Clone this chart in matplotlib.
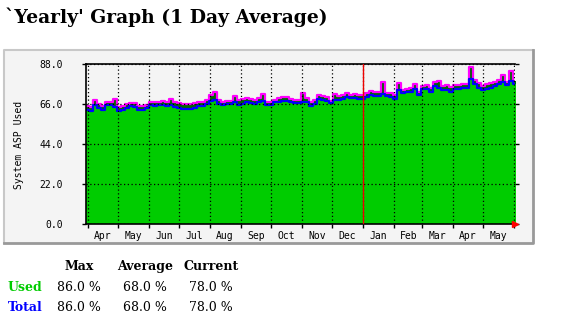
import numpy as np
import pandas as pd
import matplotlib.pyplot as plt
import matplotlib.dates as mdates
from matplotlib.lines import Line2D
from matplotlib.patches import Rectangle

# 4-day bins, starting 2018-03-29
start = '2018-03-29'
used_avg = [63, 62.5, 65.5, 64, 63, 65.5, 65.5, 64.5, 62.5, 63,
            64, 65, 64.5, 63, 63, 64, 65.5, 65, 65.5,
            65.5, 65, 65.5, 64.5, 64, 63.5, 63.5, 63.5, 64, 65,
            65, 66, 68, 68.5, 66, 65.5, 66, 66,
            67, 65.5, 66, 67, 66.5, 66, 67, 68, 65.5, 65.5,
            67, 67.5, 68, 68, 67, 66.5, 66.5, 67,
            67, 65, 66, 69, 68.5, 68, 66.5, 68.5, 68.5, 69,
            70, 69.5, 69.5, 69, 69, 70, 71, 70.5,
            70.5, 71.5, 70.5, 70, 69, 74, 72, 72.5, 73, 74.5,
            71, 74.5, 74.5, 73, 76, 75, 74, 74,
            73, 74.5, 74.5, 75, 75, 80, 77, 75, 74, 74.5,
            75, 76, 77, 78, 76.5, 79, 77]
used_peak = [65, 64.5, 68.5, 66, 65, 67.5, 67.5, 68.7, 64.5, 65,
             66, 66.5, 66.5, 65, 65, 65.5, 67, 67.5, 67.5,
             68, 67.5, 69, 67, 66.5, 66, 66, 66, 66.5, 67.5,
             67.5, 68.5, 71, 72.5, 68.5, 67.5, 68, 68,
             70.5, 68.5, 69, 69.5, 69, 68.5, 69.5, 71.5, 67.5, 67.5,
             68.5, 69.5, 70, 70, 69, 68.5, 68.5, 72,
             69.5, 67.5, 68.5, 71, 70.5, 70, 68, 71.5, 70.5, 71,
             72, 71, 71.5, 71, 71, 72, 73.5, 73,
             73, 78, 72, 72, 71, 77.5, 74, 74.5, 75, 77,
             72.5, 76, 76.5, 75, 78.5, 79, 76, 76.5,
             75.5, 76.5, 76.5, 77, 77, 86.5, 79.5, 77.5, 76, 77,
             77.5, 78.5, 79.5, 82, 78.5, 84.5, 79]

y_ticks = [0, 22, 44, 66, 88]
legend_rows = ['Used', 'Total']
legend_cols = ['Max', 'Average', 'Current']
legend_vals = ['86.0 %', '68.0 %', '78.0 %']

W, H = 575, 322
def fx(px):
    return px / W
def fy(py):
    return 1 - py / H

dates = pd.date_range(start, periods=len(used_avg) + 1, freq='4D')
avg = np.append(used_avg, used_avg[-1])
peak = np.append(used_peak, used_peak[-1])

fig = plt.figure(figsize=(W / 100, H / 100), dpi=100)
fig.patch.set_facecolor('white')

# grey panel with 3d-ish border
fig.patches.append(Rectangle((fx(4), fy(243)), (533 - 4) / W, (243 - 50) / H,
                             transform=fig.transFigure, facecolor='#f4f4f4',
                             edgecolor='none', zorder=-1))
fig.lines.append(Line2D([fx(4), fx(4), fx(533)], [fy(243), fy(50), fy(50)],
                        transform=fig.transFigure, color='#c8c8c8', lw=1.5))
fig.lines.append(Line2D([fx(4), fx(533), fx(533)], [fy(243), fy(243), fy(50)],
                        transform=fig.transFigure, color='#999999', lw=2))

fig.text(fx(5), fy(23), "`Yearly' Graph (1 Day Average)", family='DejaVu Serif',
         weight='bold', fontsize=13.5, va='baseline')

ax = fig.add_axes([fx(85.5), fy(224.3), (515 - 85.5) / W, (224.3 - 64.3) / H])
ax.set_zorder(1)
ax.set_facecolor('#f4f4f4')
ax.fill_between(dates, 0, peak, step='post', color='#006600', lw=0)
ax.fill_between(dates, 0, avg, step='post', color='#00cc00', lw=0)
ax.step(dates, peak, where='post', color='#ff00ff', lw=1.6)
ax.step(dates, avg, where='post', color='#0000ff', lw=1.6)
ax.axvline(pd.Timestamp('2019-01-01'), color='#ee0000', lw=1, zorder=3)

ax.set_xlim(pd.Timestamp('2018-03-29') + pd.Timedelta(hours=12),
            pd.Timestamp('2019-06-02'))
ax.set_ylim(0, 88)
ax.set_yticks(y_ticks)
ax.set_yticklabels(['%.1f' % v for v in y_ticks])
ax.xaxis.set_major_locator(mdates.MonthLocator())
ax.xaxis.set_major_formatter(plt.NullFormatter())
ax.xaxis.set_minor_locator(mdates.MonthLocator(bymonthday=16))
ax.xaxis.set_minor_formatter(mdates.DateFormatter('%b'))
ax.tick_params(axis='x', which='minor', length=0, labelsize=7, pad=5)
ax.tick_params(axis='x', which='major', length=3, width=1, direction='out')
ax.tick_params(axis='y', length=3, width=1, labelsize=7, right=True, pad=13)
for lab in ax.get_xticklabels(minor=True) + ax.get_yticklabels():
    lab.set_family('DejaVu Sans Mono')

ax.set_axisbelow(False)
ax.grid(True, which='major', color='black', linestyle=(0, (1, 2)), lw=0.9)
ax.spines['right'].set_visible(False)
for s in ['left', 'bottom', 'top']:
    ax.spines[s].set_linewidth(1.2)

# red arrow at the end of the x axis
ax.plot([1.0], [0], marker='>', color='red', markersize=5,
        transform=ax.transAxes, clip_on=False, zorder=5)

fig.text(fx(19), fy(145), 'System ASP Used', rotation=90, ha='center',
         va='center', family='DejaVu Sans Mono', fontsize=7)

# legend table
col_x = [79, 145, 211]
for cx, name in zip(col_x, legend_cols):
    fig.text(fx(cx), fy(270), name, ha='center', va='baseline',
             family='DejaVu Serif', weight='bold', fontsize=9)
row_y = [291, 311]
row_col = ['#00cc00', '#0000ff']
for ry, name, c in zip(row_y, legend_rows, row_col):
    fig.text(fx(8), fy(ry), name, ha='left', va='baseline', color=c,
             family='DejaVu Serif', weight='bold', fontsize=9)
    for cx, v in zip(col_x, legend_vals):
        fig.text(fx(cx), fy(ry), v, ha='center', va='baseline',
                 family='DejaVu Serif', fontsize=9)

plt.savefig('out.png', dpi=100)
